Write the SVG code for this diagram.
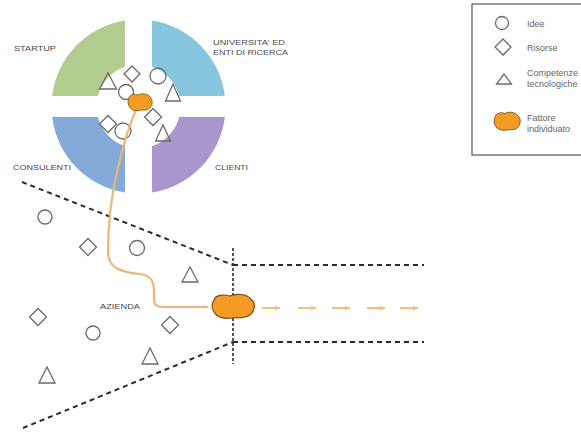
<svg xmlns="http://www.w3.org/2000/svg" width="581" height="434" viewBox="0 0 581 434">
<style>
  .lbl{font-family:"Liberation Sans",Arial,sans-serif;font-size:8px;fill:#4a4a4a}
  .leg{font-family:"Liberation Sans",Arial,sans-serif;font-size:9px;fill:#666}
  .sh{fill:none;stroke:#6b6b6b;stroke-width:1.3}
  .blob{fill:#f39b22;stroke:#7a4a10;stroke-width:1.2}
  .dash{fill:none;stroke:#2a2a2a;stroke-width:2;stroke-dasharray:5 4}
  .vdash{fill:none;stroke:#2a2a2a;stroke-width:1.6;stroke-dasharray:3 2}
  .flow{fill:none;stroke:#eab676;stroke-width:2.2;stroke-linecap:round;stroke-linejoin:round}
  .small{fill:none;stroke:#f0c07c;stroke-width:2}
</style>
<defs>
  <path id="blobShape" d="M-18,-6 C-17,-11 -9,-12 -3,-10 C3,-13 13,-12 17,-7 C22,-3 21,5 16,9 C11,13 4,11 -1,12 C-7,13 -15,12 -18,6 C-21,2 -20,-3 -18,-6 Z"/>
  <marker id="ah" viewBox="0 0 10 10" refX="9" refY="5" markerWidth="5" markerHeight="5" orient="auto" markerUnits="userSpaceOnUse">
    <path d="M0,1 L10,5 L0,9 Z" fill="#eab676"/>
  </marker>
  <marker id="ahs" viewBox="0 0 10 10" refX="9" refY="5" markerWidth="6" markerHeight="6" orient="auto" markerUnits="userSpaceOnUse">
    <path d="M0,1 L10,5 L0,9 Z" fill="#f0c07c"/>
  </marker>
</defs>

<g id="quadrant-startup">
  <path d="M125,20.55 A87,87 0 0 0 52.14,96 L97.83,96 A42,42 0 0 1 125,66.73 Z" fill="#b1cc8e"/>
  <text class="lbl" x="14" y="51" textLength="42" lengthAdjust="spacingAndGlyphs">STARTUP</text>
</g>
<g id="quadrant-universita">
  <path d="M152,20.55 A87,87 0 0 1 224.86,96 L179.17,96 A42,42 0 0 0 152,66.73 Z" fill="#88c6de"/>
  <text class="lbl" x="213" y="45" textLength="72" lengthAdjust="spacingAndGlyphs">UNIVERSITA' ED</text>
  <text class="lbl" x="213" y="55" textLength="75" lengthAdjust="spacingAndGlyphs">ENTI DI RICERCA</text>
</g>
<g id="quadrant-consulenti">
  <path d="M52.14,117 A87,87 0 0 0 125,192.45 L125,146.27 A42,42 0 0 1 97.83,117 Z" fill="#83aad8"/>
  <text class="lbl" x="13" y="169.5" textLength="58" lengthAdjust="spacingAndGlyphs">CONSULENTI</text>
</g>
<g id="quadrant-clienti">
  <path d="M152,192.45 A87,87 0 0 0 224.86,117 L179.17,117 A42,42 0 0 1 152,146.27 Z" fill="#a897cc"/>
  <text class="lbl" x="215" y="169.5" textLength="33" lengthAdjust="spacingAndGlyphs">CLIENTI</text>
</g>

<g id="ring-elements">
  <polygon class="sh" points="108,73 99.5,89 116.5,89"/>
  <polygon class="sh" points="132,66 140,74 132,82 124,74"/>
  <circle class="sh" cx="158" cy="76" r="8"/>
  <circle class="sh" cx="126" cy="92" r="7.5"/>
  <polygon class="sh" points="173,84 165.5,101 180.5,101"/>
  <polygon class="sh" points="108,115.5 116.5,124 108,132.5 99.5,124"/>
  <circle class="sh" cx="123" cy="131" r="8"/>
  <polygon class="sh" points="153,108.5 161.5,117 153,125.5 144.5,117"/>
  <polygon class="sh" points="163,125 155.5,141 170.5,141"/>
</g>

<g id="field-elements">
  <circle class="sh" cx="45" cy="217" r="7"/>
  <polygon class="sh" points="88,238.5 96.5,247 88,255.5 79.5,247"/>
  <circle class="sh" cx="137" cy="248" r="7.5"/>
  <polygon class="sh" points="190,267 182,282 198,282"/>
  <polygon class="sh" points="38,308.5 46.5,317 38,325.5 29.5,317"/>
  <circle class="sh" cx="93" cy="333" r="7"/>
  <polygon class="sh" points="170,316.5 178.5,325 170,333.5 161.5,325"/>
  <polygon class="sh" points="150,348 142,364 158,364"/>
  <polygon class="sh" points="47,367 39,383 55,383"/>
  <text class="lbl" x="100" y="308.5" textLength="40" lengthAdjust="spacingAndGlyphs">AZIENDA</text>
</g>

<g id="connectors">
  <path class="dash" d="M22,182 L233,265"/>
  <path class="dash" d="M23,428 L233,342"/>
  <path class="dash" d="M233,265 L424,265"/>
  <path class="dash" d="M233,342 L424,342"/>
  <path class="vdash" d="M233,248 L233,364"/>
  <path class="flow" marker-end="url(#ah)" d="M136,110 C128,128 122,150 117,172 C111,198 108,225 108,252 C108,268 120,272 140,274 C152,276 154,282 154,292 L154,300 C154,305 157,307 163,307 L207,307"/>
  <path class="small" marker-end="url(#ahs)" d="M262,308 L280,308"/>
  <path class="small" marker-end="url(#ahs)" d="M298,308 L316,308"/>
  <path class="small" marker-end="url(#ahs)" d="M332,308 L350,308"/>
  <path class="small" marker-end="url(#ahs)" d="M367,308 L385,308"/>
  <path class="small" marker-end="url(#ahs)" d="M400,308 L418,308"/>
</g>

<g id="blob-ring">
  <use href="#blobShape" class="blob" transform="translate(140,102) scale(0.6,0.7)"/>
</g>
<g id="blob-main">
  <use href="#blobShape" class="blob" transform="translate(233,306) scale(1.05,1.0)"/>
</g>

<g id="legend">
  <rect x="472" y="4" width="120" height="151" fill="#fff" stroke="#555" stroke-width="1.2"/>
  <circle class="sh" cx="502" cy="23" r="6.5"/>
  <text class="leg" x="527" y="27">Idee</text>
  <polygon class="sh" points="503,39 511,47 503,55 495,47"/>
  <text class="leg" x="527" y="51">Risorse</text>
  <polygon class="sh" points="504,74 496.5,84 511.5,84"/>
  <text class="leg" x="527" y="76">Competenze</text>
  <text class="leg" x="527" y="87">tecnologiche</text>
  <use href="#blobShape" class="blob" transform="translate(507,121) scale(0.65,0.75)"/>
  <text class="leg" x="527" y="121">Fattore</text>
  <text class="leg" x="527" y="132">individuato</text>
</g>
</svg>
